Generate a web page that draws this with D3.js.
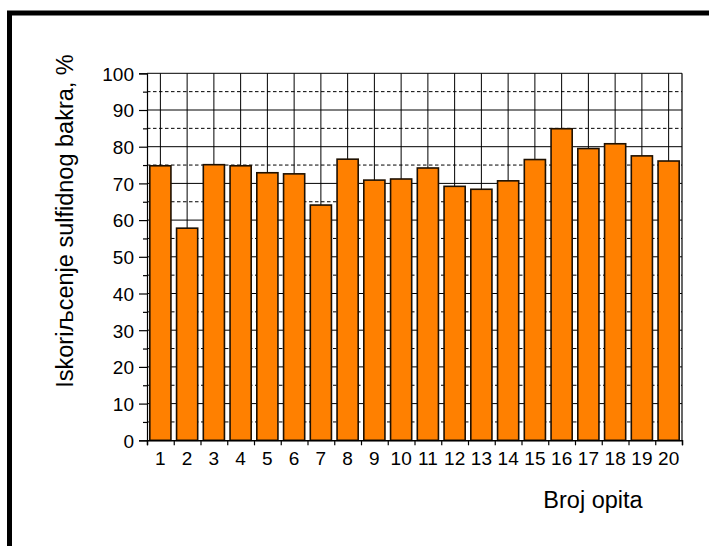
<!DOCTYPE html>
<html><head><meta charset="utf-8">
<script src="https://cdn.jsdelivr.net/npm/d3@7"></script>
<style>
html,body{margin:0;padding:0;background:#fff;}
svg{display:block;}
text{font-family:"Liberation Sans",Arial,Helvetica,sans-serif;fill:#000;}
</style></head>
<body>
<svg id="chart" width="709" height="546"></svg>
<script>
const categories = ["1","2","3","4","5","6","7","8","9","10","11","12","13","14","15","16","17","18","19","20"];
const values = [74.8,57.8,75.1,74.8,72.9,72.6,64.1,76.6,70.9,71.2,74.2,69.2,68.4,70.7,76.5,84.9,79.5,80.8,77.5,76.1];
const majorTicks = [0,10,20,30,40,50,60,70,80,90,100];
const minorTicks = [5,15,25,35,45,55,65,75,85,95];
const yTitle = "Iskoriљcenje sulfidnog bakra, %";
const xTitle = "Broj opita";

const svg = d3.select("#chart");
const L = 147, R = 682, T = 73.3, B = 440.3;

// outer frame
svg.append("rect").attr("x",9.5).attr("y",13).attr("width",760).attr("height",600)
  .attr("fill","none").attr("stroke","#000").attr("stroke-width",5);

const x = d3.scaleBand().domain(categories).range([L,R]).paddingInner(0.21).paddingOuter(0.105);
const y = d3.scaleLinear().domain([0,100]).range([B,T]);

const grid = svg.append("g");
// vertical gridlines at category centers
grid.selectAll("line.v").data(categories).join("line")
  .attr("x1",d=>x(d)+x.bandwidth()/2).attr("x2",d=>x(d)+x.bandwidth()/2)
  .attr("y1",T).attr("y2",B).attr("stroke","#000").attr("stroke-width",1);
// major horizontal gridlines
grid.selectAll("line.h").data(majorTicks.filter(d=>d>0)).join("line")
  .attr("x1",L).attr("x2",R).attr("y1",d=>y(d)).attr("y2",d=>y(d))
  .attr("stroke","#000").attr("stroke-width",1);
// minor dashed gridlines
grid.selectAll("line.m").data(minorTicks).join("line")
  .attr("x1",L).attr("x2",R).attr("y1",d=>y(d)).attr("y2",d=>y(d))
  .attr("stroke","#000").attr("stroke-width",1).attr("stroke-dasharray","3.5,2.5");

// right border
svg.append("line").attr("x1",R).attr("x2",R).attr("y1",T).attr("y2",B)
  .attr("stroke","#000").attr("stroke-width",1.2);

// bars
svg.append("g").selectAll("rect").data(values).join("rect")
  .attr("x",(d,i)=>x(categories[i])).attr("width",x.bandwidth())
  .attr("y",d=>y(d)).attr("height",d=>B-y(d))
  .attr("fill","#ff8000").attr("stroke","#1e1000").attr("stroke-width",1.6);

// y axis
const yAxis = d3.axisLeft(y).tickValues(majorTicks).tickSize(8).tickPadding(5).tickFormat(d3.format("d"));
const gy = svg.append("g").attr("transform",`translate(${L},0)`).call(yAxis);
gy.select(".domain").attr("stroke","#000").attr("stroke-width",1.2);
gy.selectAll(".tick line").attr("stroke","#000").attr("stroke-width",1.2);
gy.selectAll(".tick text").style("font-size","19px").attr("font-family",null).attr("dy","0.36em");
const yMinor = d3.axisLeft(y).tickValues(minorTicks).tickSize(4).tickFormat("");
const gym = svg.append("g").attr("transform",`translate(${L},0)`).call(yMinor);
gym.select(".domain").remove();
gym.selectAll(".tick line").attr("stroke","#000").attr("stroke-width",1.2);

// x axis
const xb = d3.scaleLinear().domain([0,categories.length]).range([x(categories[0])-x.step()*x.paddingInner()/2, x(categories[categories.length-1])+x.bandwidth()+x.step()*x.paddingInner()/2]);
const xAxisTicks = d3.axisBottom(xb).tickValues(d3.range(0,categories.length+1)).tickSize(5).tickFormat("");
const gxt = svg.append("g").attr("transform",`translate(0,${B})`).call(xAxisTicks);
gxt.select(".domain").attr("stroke","#000").attr("stroke-width",1.4);
gxt.selectAll(".tick line").attr("stroke","#000").attr("stroke-width",1.2);
const xAxis = d3.axisBottom(x).tickSize(0).tickPadding(11);
const gx = svg.append("g").attr("transform",`translate(0,${B})`).call(xAxis);
gx.select(".domain").remove();
gx.selectAll(".tick text").style("font-size","19px").attr("font-family",null);

// titles
svg.append("text").attr("transform","translate(73,221) rotate(-90)")
  .attr("text-anchor","middle").style("font-size","23.5px").text(yTitle);
svg.append("text").attr("x",593).attr("y",508).attr("text-anchor","middle")
  .style("font-size","23.5px").text(xTitle);
</script>
</body></html>
